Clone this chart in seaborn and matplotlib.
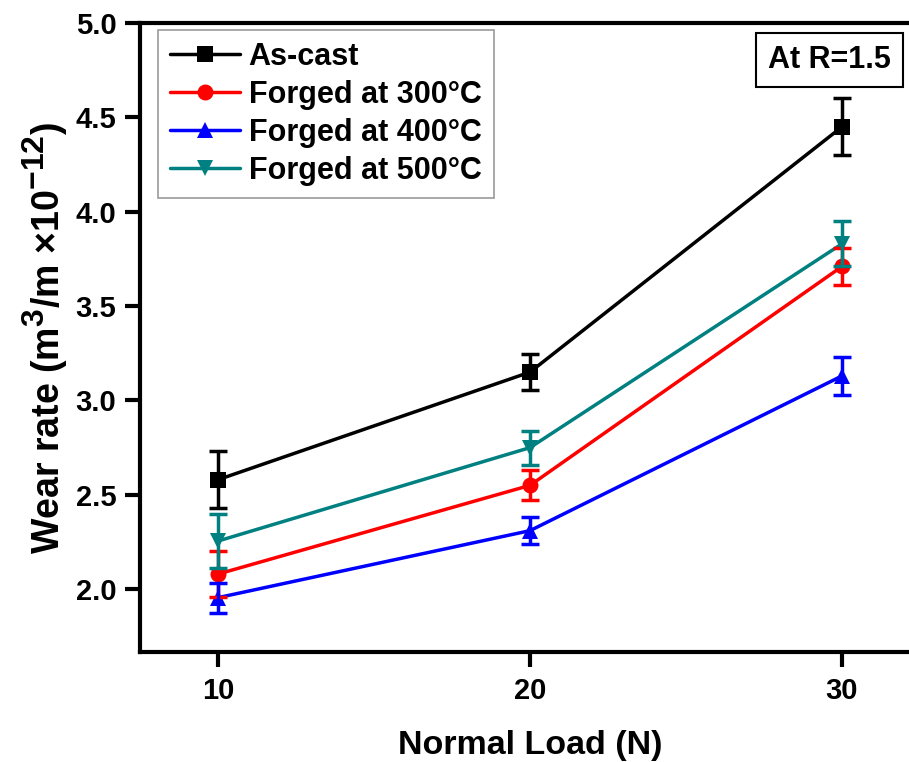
import numpy as np
import pandas as pd
import matplotlib
matplotlib.use("Agg")
import matplotlib.pyplot as plt
import matplotlib._mathtext as mathtext_mod
import seaborn as sns

# data
loads = [10, 20, 30]
as_cast = [2.58, 3.15, 4.45]
as_cast_err = [0.15, 0.095, 0.15]
forged_300 = [2.08, 2.55, 3.71]
forged_300_err = [0.12, 0.08, 0.10]
forged_400 = [1.955, 2.31, 3.13]
forged_400_err = [0.08, 0.07, 0.10]
forged_500 = [2.255, 2.75, 3.83]
forged_500_err = [0.145, 0.09, 0.12]

labels = ["As-cast", "Forged at 300°C", "Forged at 400°C", "Forged at 500°C"]
colors = ["#000000", "#FF0000", "#0000FF", "#008080"]
markers = ["s", "o", "^", "v"]
values = [as_cast, forged_300, forged_400, forged_500]
errors = [as_cast_err, forged_300_err, forged_400_err, forged_500_err]

df = pd.DataFrame({
    "Load": loads * 4,
    "Wear": sum(values, []),
    "Err": sum(errors, []),
    "Sample": [l for l in labels for _ in loads],
})

sns.set_style("ticks")
plt.rcParams['font.family'] = ['Liberation Sans', 'DejaVu Sans']
plt.rcParams['font.weight'] = 'bold'
plt.rcParams['mathtext.fontset'] = 'custom'
plt.rcParams['mathtext.rm'] = 'Liberation Sans:bold'
plt.rcParams['mathtext.bf'] = 'Liberation Sans:bold'
plt.rcParams['mathtext.default'] = 'bf'
for k in ['text.color', 'axes.labelcolor', 'xtick.color', 'ytick.color',
          'axes.edgecolor']:
    plt.rcParams[k] = 'black'
# bigger superscripts, as in the reference label
mathtext_mod.SHRINK_FACTOR = 0.85

fig = plt.figure(figsize=(9.09, 7.62), dpi=100)
ax = fig.add_axes([140 / 909, 1 - 652 / 762, 780 / 909, 629 / 762])

sns.lineplot(data=df, x="Load", y="Wear", hue="Sample", style="Sample",
             hue_order=labels, style_order=labels, palette=colors,
             markers=markers, dashes=False, markersize=11.5, linewidth=2.5,
             markeredgewidth=0, ax=ax, legend=True)

for lab, col in zip(labels, colors):
    sub = df[df["Sample"] == lab]
    ax.errorbar(sub["Load"], sub["Wear"], yerr=sub["Err"], fmt='none',
                ecolor=col, elinewidth=2.5, capsize=6.5, capthick=2.5)

ax.set_xlim(7.5, 32.5)
ax.set_ylim(1.667, 5.0)
ax.set_xticks(loads)
ax.set_yticks(np.arange(2.0, 5.01, 0.5))
ax.yaxis.set_major_formatter(matplotlib.ticker.FormatStrFormatter('%.1f'))

for s in ax.spines.values():
    s.set_linewidth(3)
ax.tick_params(axis='both', direction='out', length=11, width=3,
               labelsize=21)
ax.tick_params(axis='x', pad=7)
ax.tick_params(axis='y', pad=6)

ax.set_xlabel("Normal Load (N)", fontsize=24.5, fontweight='bold', labelpad=18)
ax.set_ylabel("Wear rate (m$^3$/m $\\times$10$^{-12}$)", fontsize=27,
              fontweight='bold', labelpad=4)

leg = ax.legend(loc='upper left', bbox_to_anchor=(0.023, 0.989),
                borderaxespad=0, fontsize=22, handlelength=2.27,
                handletextpad=0.3, borderpad=0.4, labelspacing=0.26,
                frameon=True, fancybox=False)
leg.get_frame().set_edgecolor('#808080')
leg.get_frame().set_linewidth(1.2)
for t in leg.get_texts():
    t.set_fontweight('bold')

ax.text(0.884, 0.941, "At R=1.5", transform=ax.transAxes, fontsize=22,
        fontweight='bold', ha='center', va='center',
        bbox=dict(boxstyle='square,pad=0.38', facecolor='white',
                  edgecolor='black', linewidth=1.5))

fig.savefig("out.png", dpi=100)
